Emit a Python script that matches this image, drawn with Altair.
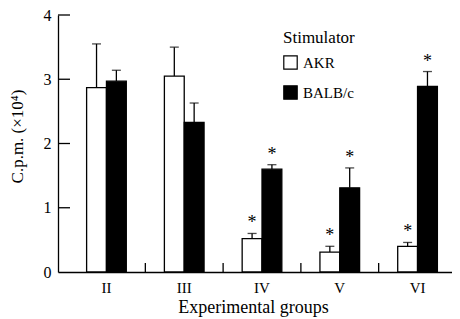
import altair as alt
import pandas as pd

groups = ["II", "III", "IV", "V", "VI"]
stimulators = ["AKR", "BALB/c"]
akr_mean = [2.87, 3.05, 0.52, 0.31, 0.40]
akr_upper = [3.55, 3.50, 0.60, 0.40, 0.46]
akr_sig = [False, False, True, True, True]
balb_mean = [2.97, 2.33, 1.60, 1.31, 2.89]
balb_upper = [3.14, 2.63, 1.67, 1.62, 3.12]
balb_sig = [False, False, True, True, True]
y_ticks = [0, 1, 2, 3, 4]
boundaries = groups[1:]

rows = []
for s, m, u, sig in [("AKR", akr_mean, akr_upper, akr_sig),
                     ("BALB/c", balb_mean, balb_upper, balb_sig)]:
    for g, mv, uv, sv in zip(groups, m, u, sig):
        rows.append({"group": g, "stim": s, "mean": mv, "upper": uv, "sig": sv,
                     "star": "*" if sv else ""})
df = pd.DataFrame(rows)
tick_df = pd.DataFrame({"v": y_ticks[1:]})
bound_df = pd.DataFrame({"group": boundaries})

FONT = "Liberation Serif"

x_scale = alt.Scale(domain=groups, range=[0, 408], paddingOuter=0.123, paddingInner=0)
off_scale = alt.Scale(domain=stimulators, paddingOuter=0.96, paddingInner=0)
y_scale = alt.Scale(domain=[0, 4], nice=False, zero=True)

x_axis = alt.Axis(title="Experimental groups", labelAngle=0, ticks=False, tickSize=0,
                  labelPadding=8, labelFontSize=15, titleFontSize=18,
                  titleX=195, titleY=40, titleBaseline="alphabetic",
                  domainWidth=1.3, grid=False)
y_axis = alt.Axis(title="C.p.m. (×10⁴)", values=y_ticks, format="d", ticks=False, tickSize=0,
                  labelPadding=7, labelFontSize=16, titleFontSize=17,
                  titleX=-36, titleY=121, titleBaseline="alphabetic",
                  domainWidth=1.3, grid=False)

X = alt.X("group:N", scale=x_scale, sort=groups, axis=x_axis)
XO = alt.XOffset("stim:N", scale=off_scale)

bars = alt.Chart(df).mark_bar(stroke="black", strokeWidth=1.3).encode(
    x=X, xOffset=XO,
    y=alt.Y("mean:Q", scale=y_scale, axis=y_axis),
    color=alt.Color("stim:N", scale=alt.Scale(domain=stimulators, range=["white", "black"]),
                    legend=alt.Legend(title="Stimulator", orient="none", legendX=225, legendY=15,
                                      titleFontSize=17, titleFontWeight="normal",
                                      labelFontSize=15, symbolType="square", symbolSize=180,
                                      symbolStrokeColor="black", symbolStrokeWidth=1.2,
                                      titlePadding=8, rowPadding=11, labelOffset=5)),
)

err = alt.Chart(df).mark_rule(color="black", strokeWidth=1.3).encode(
    x=X, xOffset=XO,
    y=alt.Y("mean:Q", scale=y_scale, axis=y_axis),
    y2="upper:Q",
)

caps = alt.Chart(df).mark_tick(color="black", thickness=1.3, size=9, orient="horizontal").encode(
    x=X, xOffset=XO,
    y=alt.Y("upper:Q", scale=y_scale, axis=y_axis),
)

stars = alt.Chart(df).mark_text(
    fontSize=18, baseline="alphabetic", dy=-5).encode(
    x=X, xOffset=XO,
    y=alt.Y("upper:Q", scale=y_scale, axis=y_axis),
    text="star:N",
    color=alt.value("black"),
)

yticks = alt.Chart(tick_df).mark_rule(color="black", strokeWidth=1.3).encode(
    y=alt.Y("v:Q", scale=y_scale, axis=y_axis),
    x=alt.value(0), x2=alt.value(12),
)

xticks = alt.Chart(bound_df).mark_rule(color="black", strokeWidth=1.3).encode(
    x=alt.X("group:N", scale=x_scale, sort=groups, axis=x_axis, bandPosition=0),
    y=alt.datum(0), y2=alt.value(248),
)

chart = alt.layer(bars, err, caps, stars, yticks, xticks).properties(
    width=394, height=257,
    padding={"left": 50, "top": 7, "right": 0, "bottom": 47},
    autosize="none",
).configure(font=FONT).configure_view(stroke=None).configure_axis(
    domainColor="black", labelColor="black", titleColor="black",
    labelFont=FONT, titleFont=FONT, titleFontWeight="normal",
).configure_legend(labelFont=FONT, titleFont=FONT, labelColor="black", titleColor="black")

chart.save("out.html", embed_options={"renderer": "svg", "actions": False})
